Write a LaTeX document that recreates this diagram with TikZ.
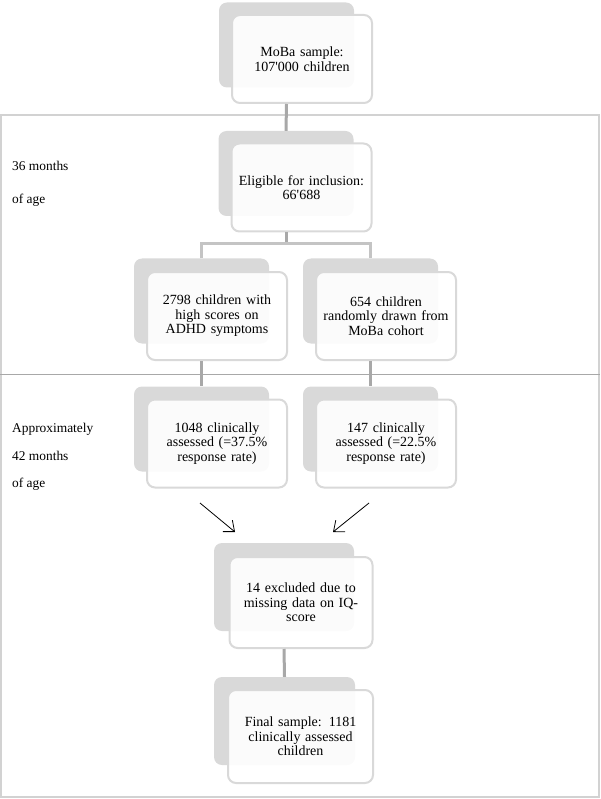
\documentclass[tikz,border=0pt]{standalone}
\usepackage{fontspec}
\setmainfont{Liberation Serif}
\usetikzlibrary{arrows.meta}
\definecolor{boxgray}{HTML}{D9D9D9}
\definecolor{linkgray}{HTML}{A8A8A8}
\definecolor{branchgray}{HTML}{C4C4C4}
\definecolor{framegray}{HTML}{D2D2D2}
\tikzset{
  back/.style={rounded corners=8pt, fill=boxgray, minimum width=135pt, minimum height=85pt, inner sep=0pt},
  front/.style={rounded corners=8pt, draw=boxgray, line width=2pt, fill=white, fill opacity=0.9, text opacity=1,
    minimum width=140pt, minimum height=88pt, text width=132pt, align=center, inner sep=0pt,
    font=\fontsize{14}{14.6}\selectfont},
  link/.style={draw=linkgray, line width=3pt},
  branch/.style={draw=branchgray, line width=3pt},
  side/.style={anchor=base west, inner sep=0pt, font=\fontsize{13.4}{15}\selectfont},
  arrow/.style={-{Straight Barb[length=9pt,width=15pt]}, line width=0.8pt}
}
\newcommand{\ap}{\textquotesingle}
\begin{document}
\begin{tikzpicture}[x=1pt,y=-1pt]
  \useasboundingbox (0,0) rectangle (600,799);
  % frame and age bands
  \draw[framegray, line width=1.5pt] (1,115) rectangle (599,797);
  \draw[linkgray, line width=1pt] (0,374) -- (600,374);
  \node[side] (age1) at (12,171) {36 months};
  \node[side] (age1b) at (12,204) {of age};
  \node[side] (age2) at (12,432) {Approximately};
  \node[side] (age2b) at (12,460) {42 months};
  \node[side] (age2c) at (12,487) {of age};

  % boxes
  \node[back] (moba-b) at (286.5,45) {};
  \node[front] (moba) at ([shift={(15.5,14)}]moba-b) {MoBa sample:\\107\ap000 children};
  \node[back] (elig-b) at (286,173.5) {};
  \node[front] (elig) at ([shift={(15.5,14)}]elig-b) {Eligible for inclusion:\\66\ap688};
  \node[back] (adhd-b) at (201.5,301) {};
  \node[front] (adhd) at ([shift={(15.5,15)}]adhd-b) {2798 children with\\high scores on\\ADHD symptoms};
  \node[back] (rand-b) at (370.5,301) {};
  \node[front] (rand) at ([shift={(15.5,15)}]rand-b) {654 children\\randomly drawn from\\MoBa cohort};
  \node[back] (resp1-b) at (201.5,429) {};
  \node[front] (resp1) at ([shift={(15.5,14.5)}]resp1-b) {1048 clinically\\assessed (=37.5\%\\response rate)};
  \node[back] (resp2-b) at (370.5,429) {};
  \node[front] (resp2) at ([shift={(15.5,14.5)}]resp2-b) {147 clinically\\assessed (=22.5\%\\response rate)};
  \node[back, minimum width=140pt, minimum height=88pt] (excl-b) at (284,587) {};
  \node[front, minimum width=143pt, minimum height=91pt] (excl) at ([shift={(17,15.5)}]excl-b) {14 excluded due to\\missing data on IQ-\\score};
  \node[back, minimum width=141pt, minimum height=88pt] (final-b) at (284.5,721) {};
  \node[front, minimum width=145pt, minimum height=93pt] (final) at ([shift={(16,15.5)}]final-b) {Final sample: 1181\\clinically assessed\\children};

  % connectors
  \draw[link] (moba-b.south |- moba.south) -- (elig-b.north);
  \draw[link] (elig-b.south |- elig.south) -- (286,244);
  \draw[branch] (adhd-b.north) |- (286,244) -| (rand-b.north);
  \draw[link] (adhd-b.south |- adhd.south) -- (resp1-b.north);
  \draw[link] (rand-b.south |- rand.south) -- (resp2-b.north);
  \draw[link] (excl-b.south |- excl.south) -- (final-b.north);

  \coordinate (a1) at (200,503);
  \coordinate (a2) at (235,532);
  \coordinate (a3) at (369,503);
  \coordinate (a4) at (333,532);
  \draw[arrow] (a1) -- (a2);
  \draw[arrow] (a3) -- (a4);
\end{tikzpicture}
\end{document}
